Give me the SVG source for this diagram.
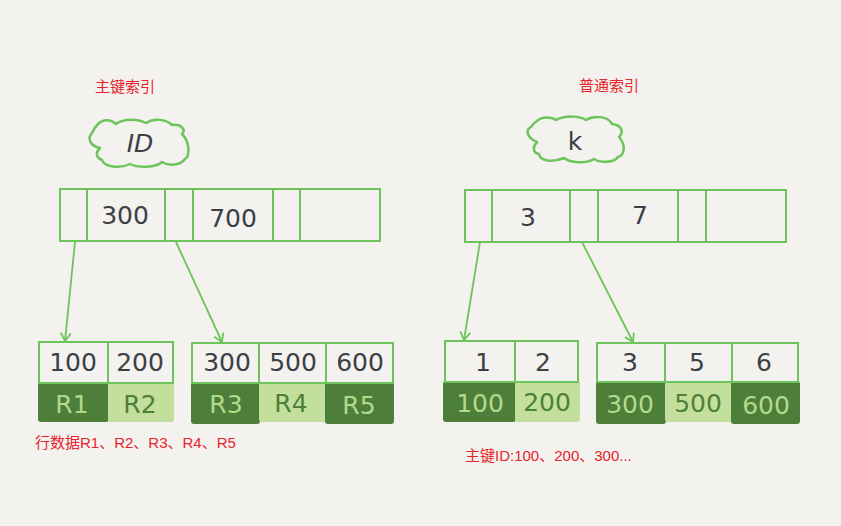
<svg xmlns="http://www.w3.org/2000/svg" width="841" height="526" viewBox="0 0 841 526">
<style>
.bg{fill:#f4f2ee}
.box{fill:none;stroke:#6cc45a;stroke-width:2}
.cloud{fill:none;stroke:#6cc45a;stroke-width:2.5;stroke-linejoin:round}
.num{font-family:"DejaVu Sans","Liberation Sans",sans-serif;font-size:25px;fill:#3b4046;text-anchor:middle;dominant-baseline:central}
.dk{fill:#4e7f3a}
.lt{fill:#c3df9c}
.tdk{font-family:"DejaVu Sans","Liberation Sans",sans-serif;font-size:25px;fill:#b3d98b;text-anchor:middle;dominant-baseline:central}
.tlt{font-family:"DejaVu Sans","Liberation Sans",sans-serif;font-size:25px;fill:#4e7f3a;text-anchor:middle;dominant-baseline:central}
.red{font-family:"Liberation Sans","Noto Sans CJK SC",sans-serif;font-size:15px;fill:#e8232c}
.arr{stroke:#6cc45a;stroke-width:1.8;fill:none}
</style>
<defs>
<marker id="ah" markerWidth="12" markerHeight="12" refX="9" refY="6" orient="auto" markerUnits="userSpaceOnUse">
<path d="M1,1 L9,6 L1,11" fill="none" stroke="#6cc45a" stroke-width="1.8"/>
</marker>
</defs>
<rect class="bg" x="0" y="0" width="841" height="526"/>

<text class="red" x="95" y="92">主键索引</text>
<text class="red" x="579" y="91">普通索引</text>

<g id="cloud-id">
<path class="cloud" d="M98,124 C104,118 112,120 116,124 C124,118 138,119 146,123 C154,118 166,119 172,125 C182,124 186,130 182,134 C190,142 190,156 185,159 C180,166 168,166 162,162 C156,168 138,168 130,164 C120,169 104,167 102,160 C95,157 96,152 100,148 C90,146 87,138 92,133 C94,128 96,126 98,124 Z"/>
<text class="num" x="140" y="143" font-style="italic">ID</text>
</g>

<g id="cloud-k">
<path class="cloud" d="M537,121 C542,116 552,117 556,120 C566,115 580,116 586,120 C594,115 608,116 612,124 C622,125 624,132 619,137 C626,145 625,155 618,157 C614,163 600,163 594,159 C586,164 570,163 564,158 C552,163 540,161 539,154 C532,153 533,146 537,142 C527,138 525,130 531,127 C533,124 535,122 537,121 Z"/>
<text class="num" x="575" y="141" font-size="16">k</text>
</g>

<g id="root-pk">
<rect class="box" x="60" y="189" width="320" height="52"/>
<line class="box" x1="87" y1="189" x2="87" y2="241"/>
<line class="box" x1="165" y1="189" x2="165" y2="241"/>
<line class="box" x1="193" y1="189" x2="193" y2="241"/>
<line class="box" x1="273" y1="189" x2="273" y2="241"/>
<line class="box" x1="300" y1="189" x2="300" y2="241"/>
<text class="num" x="125" y="215">300</text>
<text class="num" x="233" y="218">700</text>
</g>

<g id="root-k">
<rect class="box" x="465" y="190" width="321" height="52"/>
<line class="box" x1="492" y1="190" x2="492" y2="242"/>
<line class="box" x1="570" y1="190" x2="570" y2="242"/>
<line class="box" x1="598" y1="190" x2="598" y2="242"/>
<line class="box" x1="678" y1="190" x2="678" y2="242"/>
<line class="box" x1="706" y1="190" x2="706" y2="242"/>
<text class="num" x="528" y="217">3</text>
<text class="num" x="640" y="215">7</text>
</g>

<g id="connectors">
<line class="arr" x1="75" y1="242" x2="65" y2="341" marker-end="url(#ah)"/>
<line class="arr" x1="176" y1="242" x2="222" y2="342" marker-end="url(#ah)"/>
<line class="arr" x1="480" y1="242" x2="464" y2="340" marker-end="url(#ah)"/>
<line class="arr" x1="582" y1="242" x2="633" y2="342" marker-end="url(#ah)"/>
</g>

<g id="leaf-pk-1">
<rect class="dk" x="38" y="382" width="71" height="40" rx="3"/>
<rect class="lt" x="108" y="382" width="66" height="40" rx="3"/>
<rect class="box" x="39" y="342" width="134" height="41"/>
<line class="box" x1="108" y1="342" x2="108" y2="383"/>
<text class="num" x="73" y="362">100</text>
<text class="num" x="140" y="362">200</text>
<text class="tdk" x="72" y="404">R1</text>
<text class="tlt" x="140" y="404">R2</text>
</g>

<g id="leaf-pk-2">
<rect class="dk" x="191" y="382" width="69" height="42" rx="3"/>
<rect class="lt" x="259" y="382" width="68" height="40" rx="3"/>
<rect class="dk" x="325" y="382" width="69" height="42" rx="3"/>
<rect class="box" x="192" y="343" width="201" height="40"/>
<line class="box" x1="259" y1="343" x2="259" y2="383"/>
<line class="box" x1="326" y1="343" x2="326" y2="383"/>
<text class="num" x="227" y="362">300</text>
<text class="num" x="293" y="362">500</text>
<text class="num" x="360" y="362">600</text>
<text class="tdk" x="226" y="404">R3</text>
<text class="tlt" x="291" y="403">R4</text>
<text class="tdk" x="359" y="405">R5</text>
</g>

<g id="leaf-k-1">
<rect class="dk" x="443" y="381" width="73" height="41" rx="3"/>
<rect class="lt" x="515" y="381" width="65" height="41" rx="3"/>
<rect class="box" x="445" y="341" width="133" height="41"/>
<line class="box" x1="515" y1="341" x2="515" y2="382"/>
<text class="num" x="483" y="362">1</text>
<text class="num" x="543" y="362">2</text>
<text class="tdk" x="480" y="403">100</text>
<text class="tlt" x="547" y="402">200</text>
</g>

<g id="leaf-k-2">
<rect class="dk" x="596" y="381" width="70" height="43" rx="3"/>
<rect class="lt" x="665" y="381" width="68" height="41" rx="3"/>
<rect class="dk" x="731" y="381" width="69" height="43" rx="3"/>
<rect class="box" x="597" y="343" width="201" height="39"/>
<line class="box" x1="665" y1="343" x2="665" y2="382"/>
<line class="box" x1="732" y1="343" x2="732" y2="382"/>
<text class="num" x="630" y="362">3</text>
<text class="num" x="697" y="362">5</text>
<text class="num" x="764" y="362">6</text>
<text class="tdk" x="630" y="404">300</text>
<text class="tlt" x="698" y="403">500</text>
<text class="tdk" x="766" y="405">600</text>
</g>

<text class="red" x="35" y="448">行数据R1、R2、R3、R4、R5</text>
<text class="red" x="465" y="461">主键ID:100、200、300...</text>
</svg>
